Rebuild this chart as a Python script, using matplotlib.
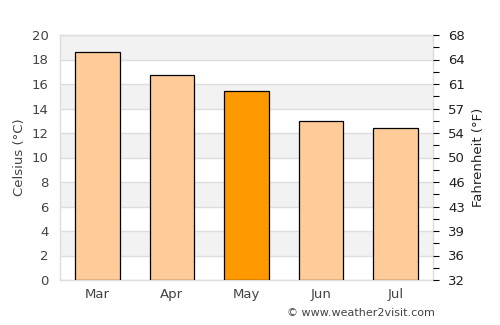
import matplotlib
matplotlib.use("Agg")
import matplotlib.pyplot as plt
from matplotlib.ticker import FixedLocator

months = ["Mar", "Apr", "May", "Jun", "Jul"]
celsius = [18.6, 16.7, 15.4, 13.0, 12.4]
highlight = "May"
c_ticks = [0, 2, 4, 6, 8, 10, 12, 14, 16, 18, 20]
f_labels = ["32", "36", "39", "43", "46", "50", "54", "57", "61", "64", "68"]

fig = plt.figure(figsize=(5, 3.25), dpi=100)
ax = fig.add_axes([60/500, 45/325, 373/500, 245/325])
text_col = "#444444"

# background bands
for i in range(0, 20, 2):
    if (i // 2) % 2 == 1:
        ax.axhspan(i, i + 2, color="#f2f2f2", zorder=0, lw=0)
for t in c_ticks:
    ax.axhline(t, color="#dddddd", lw=1, zorder=1)

colors = ["#ff9900" if m == highlight else "#ffcc99" for m in months]
ax.bar(range(len(months)), celsius, width=0.6, color=colors, edgecolor="black", linewidth=0.9, zorder=3)

ax.set_xlim(-0.5, len(months) - 0.5)
ax.set_ylim(0, 20)
ax.set_yticks(c_ticks)
ax.set_xticks(range(len(months)))
ax.set_xticklabels(months)
ax.tick_params(axis="both", length=0, labelsize=9.5, colors=text_col, pad=6)
ax.tick_params(axis="y", pad=8)
for s in ax.spines.values():
    s.set_color("#dddddd")
    s.set_linewidth(1)
ax.set_ylabel("Celsius (°C)", fontsize=9.5, color=text_col, labelpad=4)

ax2 = ax.twinx()
ax2.set_ylim(0, 20)
ax2.set_yticks(c_ticks)
ax2.set_yticklabels(f_labels)
ax2.yaxis.set_minor_locator(FixedLocator([t + 1 for t in c_ticks[:-1]]))
ax2.tick_params(axis="y", which="major", length=4, width=0.8, colors="black", labelsize=9.5, pad=7)
ax2.tick_params(axis="y", which="minor", length=4, width=0.8, color="black")
for lab in ax2.get_yticklabels():
    lab.set_color("#222222")
for s in ax2.spines.values():
    s.set_visible(False)
ax2.set_ylabel("Fahrenheit (°F)", fontsize=9.5, color="#222222", labelpad=5)

fig.text(435/500, 1 - 313/325, "© www.weather2visit.com", ha="right", va="center", fontsize=8, color=text_col)

fig.savefig("out.png", dpi=100)
